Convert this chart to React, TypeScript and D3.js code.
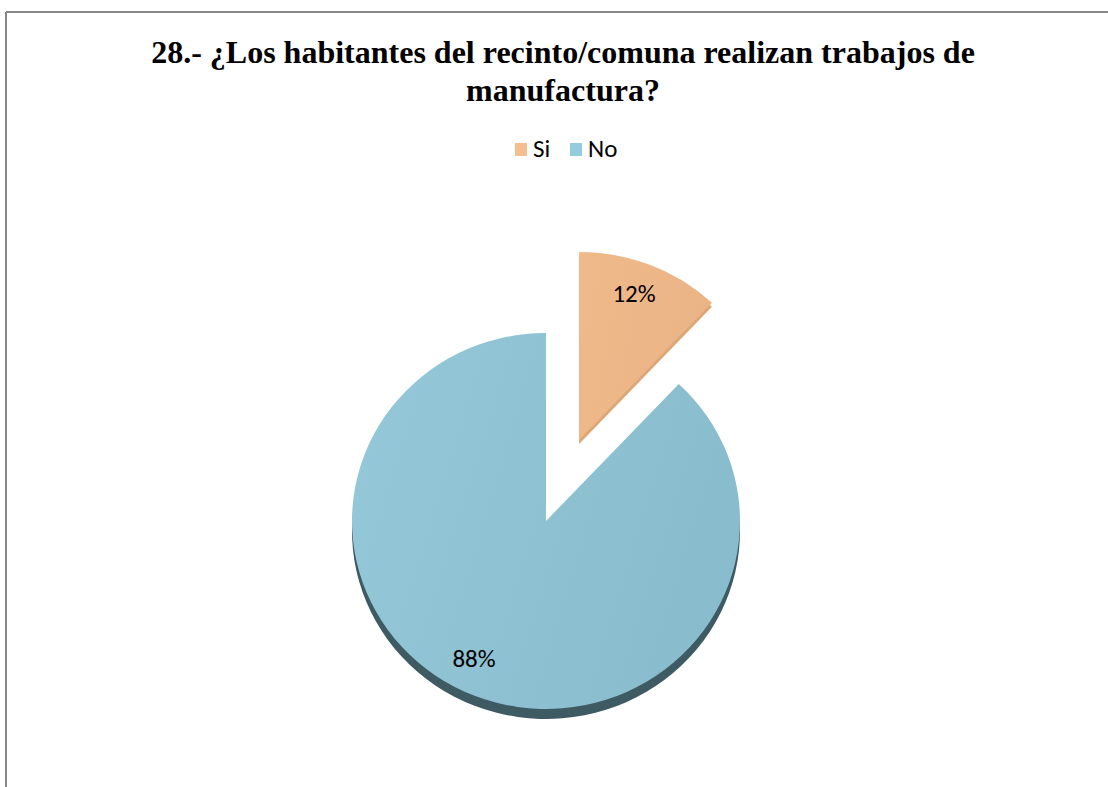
import React from "react";
import * as d3 from "d3";

const categories = ["Si", "No"];
const values = [12, 88];
const labels = ["12%", "88%"];
const titleLines = [
  "28.- ¿Los habitantes del recinto/comuna realizan trabajos de",
  "manufactura?",
];

const W = 1108;
const H = 787;
const cx = 546;
const cy = 521;
const rx = 194;
const ry = 188;
const depth = 10;
const explode = 90;

const topColors = ["#F0B98A", "#95C8D8"];
const topColors2 = ["#EBB486", "#89BCCC"];
const sideColors = ["#DDA676", "#3E5A62"];
const legendColors = ["#F6BE8E", "#93CDDD"];

export default function App() {
  const pie = d3
    .pie<number>()
    .sort(null)
    .value((d) => d)(values);
  const arc = d3.arc<d3.PieArcDatum<number>>().innerRadius(0).outerRadius(rx);
  const sy = ry / rx;

  const offsets = pie.map((p, i) => {
    if (i !== 0) return [0, 0];
    const mid = (p.startAngle + p.endAngle) / 2;
    return [Math.sin(mid) * explode, -Math.cos(mid) * explode * sy];
  });

  const labelPos = [
    [634, 296],
    [474, 661],
  ];

  return (
    <svg width={W} height={H} style={{ display: "block", position: "absolute", left: 0, top: 0 }}>
      <defs>
        {pie.map((p, i) => (
          <linearGradient key={i} id={`g${i}`} x1="0" y1="0" x2="1" y2="0.3">
            <stop offset="0" stopColor={topColors[i]} />
            <stop offset="1" stopColor={topColors2[i]} />
          </linearGradient>
        ))}
      </defs>
      <rect x={0} y={0} width={W} height={H} fill="#fff" />
      <line x1={6} y1={12} x2={W} y2={12} stroke="#868686" strokeWidth={2} />
      <line x1={6} y1={12} x2={6} y2={H} stroke="#868686" strokeWidth={2} />

      {titleLines.map((t, i) => (
        <text
          key={i}
          x={563}
          y={63 + i * 38}
          textAnchor="middle"
          fontFamily="'Liberation Serif', 'Times New Roman', serif"
          fontWeight="bold"
          fontSize={32}
          fill="#000"
        >
          {t}
        </text>
      ))}

      {categories.map((c, i) => {
        const lx = [515, 570][i];
        return (
          <g key={c}>
            <rect x={lx} y={143} width={12} height={13} fill={legendColors[i]} />
            <text
              x={lx + 18}
              y={157}
              fontFamily="Carlito, Lato, 'Open Sans', sans-serif"
              fontSize={25}
              fill="#000"
            >
              {c}
            </text>
          </g>
        );
      })}

      {/* side / depth */}
      {pie.map((p, i) => (
        <g
          key={"s" + i}
          transform={`translate(${cx + offsets[i][0]},${cy + offsets[i][1] + (i === 0 ? 4 : depth)}) scale(1,${sy})`}
        >
          <path d={arc(p) || ""} fill={sideColors[i]} />
        </g>
      ))}
      {/* top faces */}
      {pie.map((p, i) => (
        <g
          key={"t" + i}
          transform={`translate(${cx + offsets[i][0]},${cy + offsets[i][1]}) scale(1,${sy})`}
        >
          <path d={arc(p) || ""} fill={`url(#g${i})`} />
        </g>
      ))}

      {labels.map((l, i) => (
        <text
          key={l}
          x={labelPos[i][0]}
          y={labelPos[i][1]}
          textAnchor="middle"
          dominantBaseline="middle"
          fontFamily="Carlito, Lato, 'Open Sans', sans-serif"
          fontSize={25}
          fill="#000"
        >
          {l}
        </text>
      ))}
    </svg>
  );
}
